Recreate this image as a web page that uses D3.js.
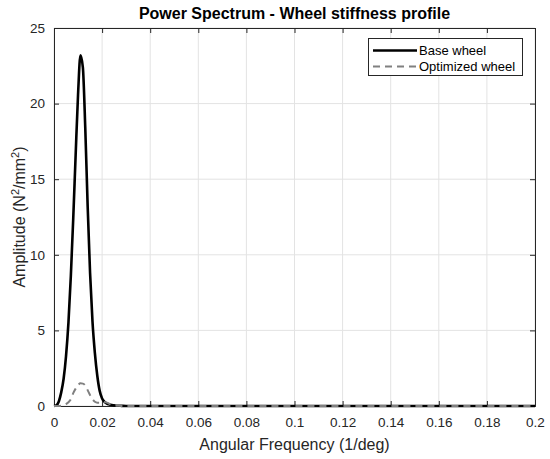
<!DOCTYPE html>
<html><head><meta charset="utf-8">
<script src="https://cdn.jsdelivr.net/npm/d3@7"></script>
<style>
html,body{margin:0;padding:0;background:#fff;}
svg{display:block;font-family:"Liberation Sans",Arial,Helvetica,sans-serif;}
</style></head>
<body><svg id="c" width="550" height="459"></svg>
<script>
// Data
const freq = [0,0.001,0.002,0.003,0.004,0.005,0.006,0.007,0.008,0.009,0.010,0.011,0.012,0.013,0.014,0.015,0.016,0.017,0.018,0.019,0.020,0.021,0.022,0.023,0.024,0.025,0.026,0.027,0.028,0.030,0.040,0.060,0.080,0.100,0.120,0.140,0.160,0.180,0.200];
const baseWheel = [0,0.05,0.3,0.9,1.8,3.3,5.5,8.6,12.4,16.6,20.6,23.2,22.4,18.4,13.2,8.8,5.6,3.5,2.0,1.0,0.5,0.28,0.16,0.1,0.06,0.04,0.02,0.015,0.01,0,0,0,0,0,0,0,0,0,0];
const optimizedWheel = [0,0,0,0.02,0.06,0.13,0.25,0.45,0.85,1.15,1.38,1.5,1.48,1.35,1.05,0.72,0.45,0.28,0.22,0.22,0.25,0.26,0.22,0.15,0.08,0.04,0.02,0.01,0.005,0,0,0,0,0,0,0,0,0,0];
const xTicks = [0,0.02,0.04,0.06,0.08,0.1,0.12,0.14,0.16,0.18,0.2];
const yTicks = [0,5,10,15,20,25];
const seriesNames = ["Base wheel","Optimized wheel"];

const svg = d3.select("#c");
const L=54, R=535, T=28, B=406;
const x = d3.scaleLinear().domain([0,0.2]).range([L,R]);
const y = d3.scaleLinear().domain([0,25]).range([B,T]);
const axisColor = "#262626";

// grid
svg.append("g").selectAll("line").data(xTicks).join("line")
  .attr("x1",d=>x(d)).attr("x2",d=>x(d)).attr("y1",T).attr("y2",B)
  .attr("stroke","#e3e3e3").attr("stroke-width",1);
svg.append("g").selectAll("line").data(yTicks).join("line")
  .attr("y1",d=>y(d)).attr("y2",d=>y(d)).attr("x1",L).attr("x2",R)
  .attr("stroke","#e3e3e3").attr("stroke-width",1);

// axes
const fmt = d => String(+d.toFixed(2));
const xb = svg.append("g").attr("transform",`translate(0,${B})`)
  .call(d3.axisBottom(x).tickValues(xTicks).tickSize(-5).tickPadding(11).tickFormat(fmt));
const xt = svg.append("g").attr("transform",`translate(0,${T})`)
  .call(d3.axisTop(x).tickValues(xTicks).tickSize(-5).tickFormat(""));
const yl = svg.append("g").attr("transform",`translate(${L},0)`)
  .call(d3.axisLeft(y).tickValues(yTicks).tickSize(-5).tickPadding(9).tickFormat(d3.format("d")));
const yr = svg.append("g").attr("transform",`translate(${R},0)`)
  .call(d3.axisRight(y).tickValues(yTicks).tickSize(-5).tickFormat(""));
[xb,xt,yl,yr].forEach(g=>{
  g.selectAll("path").attr("stroke",axisColor).attr("stroke-width",1);
  g.selectAll("line").attr("stroke",axisColor).attr("stroke-width",1);
  g.selectAll("text").attr("fill",axisColor).style("font-size","13.5px")
   .style("font-family",'"Liberation Sans",Arial,sans-serif');
});

// lines
const line = (vals)=>d3.line().x((d,i)=>x(freq[i])).y(d=>y(d)).curve(d3.curveMonotoneX)(vals);
svg.append("path").attr("d",line(baseWheel)).attr("fill","none")
  .attr("stroke","#000").attr("stroke-width",2.6).attr("stroke-linejoin","round");
svg.append("path").attr("d",line(optimizedWheel)).attr("fill","none")
  .attr("stroke","#808080").attr("stroke-width",2).attr("stroke-dasharray","7,5");

// title & labels
svg.append("text").attr("x",(L+R)/2).attr("y",19).attr("text-anchor","middle")
  .style("font-size","16px").style("font-weight","bold").attr("fill","#000")
  .text("Power Spectrum - Wheel stiffness profile");
svg.append("text").attr("x",(L+R)/2).attr("y",450).attr("text-anchor","middle")
  .style("font-size","16px").attr("fill",axisColor).text("Angular Frequency (1/deg)");
const ylab = svg.append("text").attr("transform",`translate(25,${(T+B)/2}) rotate(-90)`)
  .attr("text-anchor","middle").style("font-size","16px").attr("fill",axisColor);
ylab.append("tspan").text("Amplitude (N");
ylab.append("tspan").attr("baseline-shift","super").style("font-size","11px").text("2");
ylab.append("tspan").text("/mm");
ylab.append("tspan").attr("baseline-shift","super").style("font-size","11px").text("2");
ylab.append("tspan").text(")");

// legend
const lg = svg.append("g");
lg.append("rect").attr("x",368.5).attr("y",38.5).attr("width",154).attr("height",37)
  .attr("fill","#fff").attr("stroke",axisColor).attr("stroke-width",1);
const rows = [{name:seriesNames[0],color:"#000",w:2.6,dash:null},{name:seriesNames[1],color:"#808080",w:2,dash:"7,5"}];
rows.forEach((r,i)=>{
  const yy = 50.5 + i*16;
  lg.append("line").attr("x1",373).attr("x2",417).attr("y1",yy).attr("y2",yy)
    .attr("stroke",r.color).attr("stroke-width",r.w).attr("stroke-dasharray",r.dash);
  lg.append("text").attr("x",419).attr("y",yy+4.5).style("font-size","13px")
    .attr("fill","#000").text(r.name);
});
</script></body></html>
